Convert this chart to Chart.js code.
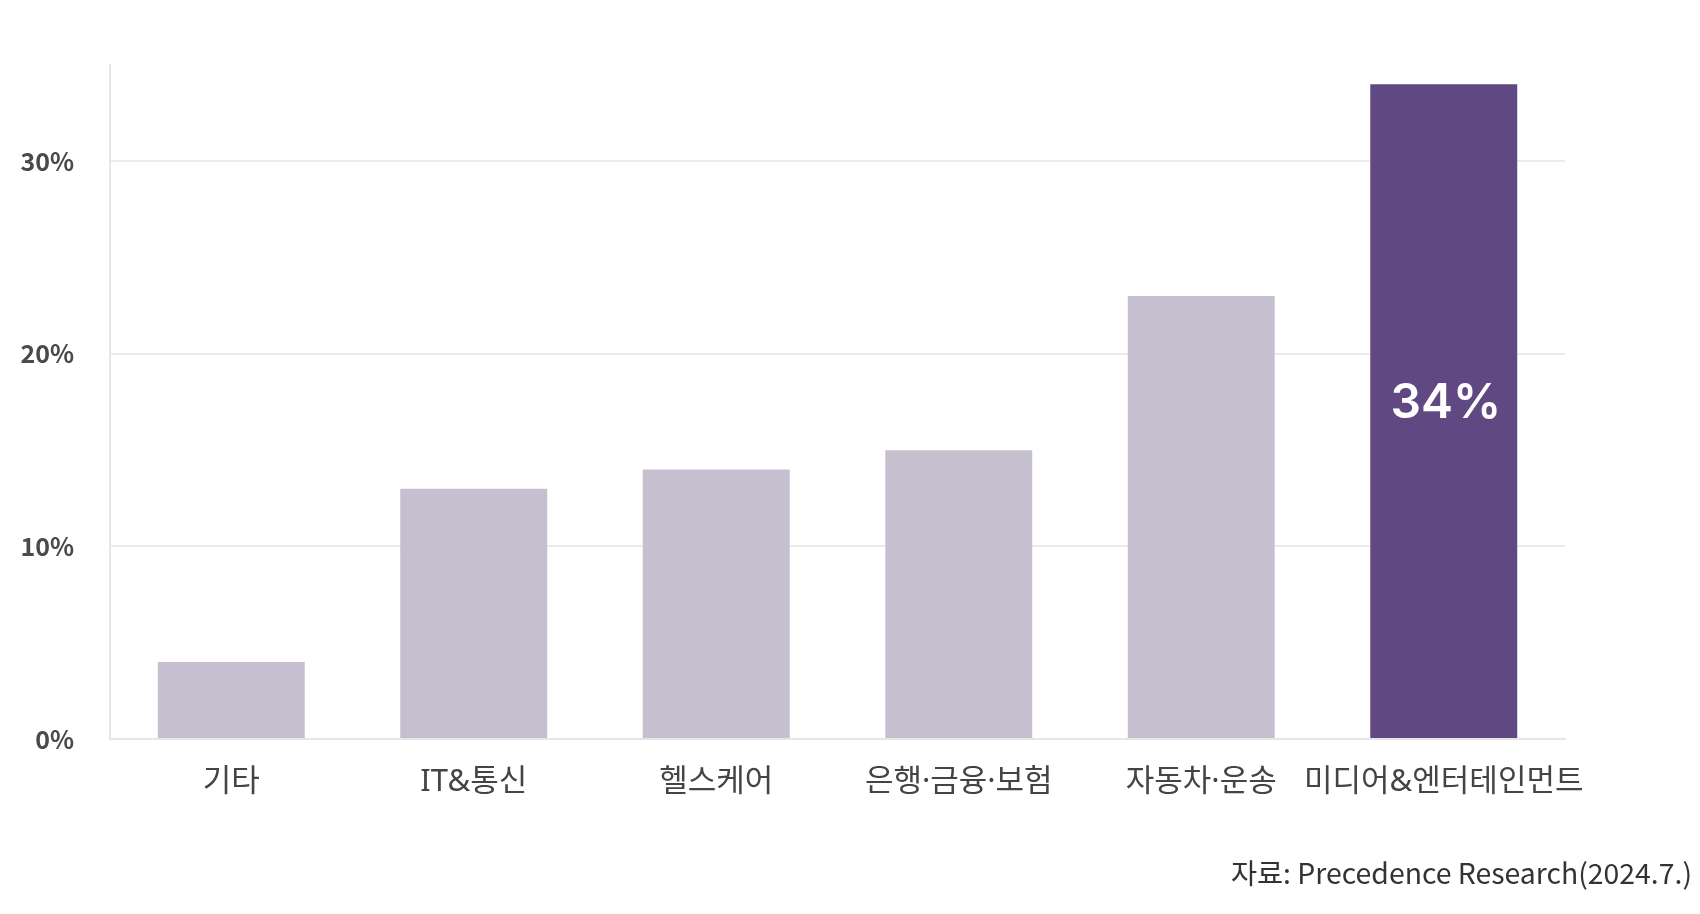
<!DOCTYPE html>
<html>
<head>
<meta charset="utf-8">
<script src="https://cdn.jsdelivr.net/npm/chart.js@4"></script>
<style>
  html, body { margin: 0; padding: 0; background: #ffffff; }
  #wrap { position: relative; width: 1700px; height: 914px; }
  #source { position: absolute; right: 8px; top: 851px; font-family: "Noto Sans CJK KR", "Noto Sans", sans-serif; font-size: 28.4px; color: #333333; white-space: nowrap; }
</style>
</head>
<body>
<div id="wrap">
  <canvas id="c" width="1700" height="914"></canvas>
  <div id="source">자료: Precedence Research(2024.7.)</div>
</div>
<script>
const categories = ["기타", "IT&통신", "헬스케어", "은행·금융·보험", "자동차·운송", "미디어&엔터테인먼트"];
const shares = [4, 13, 14, 15, 23, 34];
const highlightLabel = "34%";
const yTicks = [0, 10, 20, 30];

const barColors = shares.map((v, i) => i === shares.length - 1 ? "#604883" : "#c5bfd0");

const valueLabel = {
  id: "valueLabel",
  afterDatasetsDraw(chart) {
    const meta = chart.getDatasetMeta(0);
    const bar = meta.data[meta.data.length - 1];
    const ctx = chart.ctx;
    ctx.save();
    ctx.fillStyle = "#ffffff";
    ctx.font = "600 48px Inter, 'Liberation Sans', sans-serif";
    ctx.textAlign = "center";
    ctx.textBaseline = "middle";
    ctx.fillText(highlightLabel, bar.x + 2, (bar.y + bar.base) / 2 - 8);
    ctx.restore();
  }
};

new Chart(document.getElementById("c"), {
  type: "bar",
  data: {
    labels: categories,
    datasets: [{
      data: shares,
      backgroundColor: barColors,
      borderWidth: 0,
      categoryPercentage: 1.0,
      barPercentage: 0.606
    }]
  },
  options: {
    responsive: false,
    animation: false,
    layout: { padding: { top: 65, right: 135, bottom: 0, left: 0 } },
    plugins: { legend: { display: false }, tooltip: { enabled: false } },
    scales: {
      x: {
        grid: { display: false },
        border: { color: "#e6e6e6", width: 2 },
        ticks: {
          color: "#444444",
          padding: 17,
          maxRotation: 0,
          autoSkip: false,
          font: { family: "'Noto Sans', 'Noto Sans CJK KR', sans-serif", size: 31 }
        },
        afterFit(scale) { scale.height = 175; }
      },
      y: {
        min: 0,
        max: 35,
        afterBuildTicks(scale) { scale.ticks = yTicks.map(v => ({ value: v })); },
        grid: { color: "#ebebeb", lineWidth: 2, drawTicks: false },
        border: { color: "#e6e6e6", width: 2 },
        ticks: {
          color: "#4a4a4a",
          padding: 36,
          font: { family: "'Noto Sans CJK KR', 'Noto Sans', sans-serif", size: 25, weight: "bold" },
          callback: v => v + "%"
        },
        afterFit(scale) { scale.width = 110; }
      }
    }
  },
  plugins: [valueLabel]
});
</script>
</body>
</html>
